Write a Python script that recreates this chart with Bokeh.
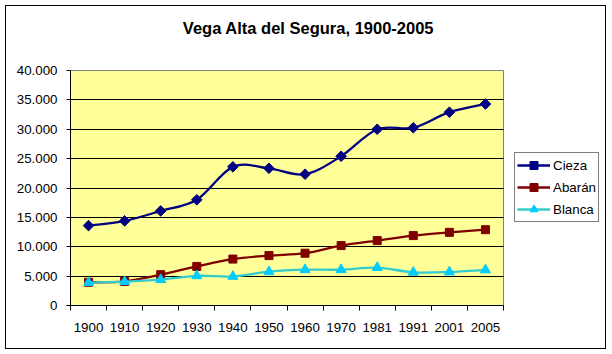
from bokeh.plotting import figure
from bokeh.models import Range1d, FixedTicker, Legend, LegendItem, ColumnDataSource, Label
from bokeh.embed import file_html
from bokeh.resources import INLINE
import math

years = ["1900", "1910", "1920", "1930", "1940", "1950", "1960", "1970", "1981", "1991", "2001", "2005"]
cieza = [13600, 14400, 16100, 18000, 23600, 23350, 22350, 25400, 30000, 30250, 32900, 34300]
abaran = [3950, 4100, 5250, 6650, 7900, 8500, 8900, 10200, 11050, 11900, 12450, 12900]
blanca = [3900, 4050, 4400, 5050, 4950, 5750, 6100, 6100, 6450, 5650, 5700, 6050]
y_ticks = [0, 5000, 10000, 15000, 20000, 25000, 30000, 35000, 40000]
y_labels = ["0", "5.000", "10.000", "15.000", "20.000", "25.000", "30.000", "35.000", "40.000"]
title_text = "Vega Alta del Segura, 1900-2005"

FONT = "Liberation Sans"

# page-pixel layout (figure drawn inside a 1px black frame at 5px margin)
INNER_W, INNER_H = 599, 342
ORIGIN = 6
AREA_L, AREA_R, AREA_T, AREA_B = 70, 503, 70, 305   # yellow plot area on the page
FRAME_R, FRAME_T = ORIGIN + INNER_W, ORIGIN          # drawing frame reaches the right/top edges

n = len(years)
ymin, ymax = y_ticks[0], y_ticks[-1]
px_x = (AREA_R - AREA_L) / n
px_y = (AREA_B - AREA_T) / (ymax - ymin)
x_end = (FRAME_R - AREA_L) / px_x
y_end = ymin + (AREA_B - FRAME_T) / px_y

p = figure(frame_width=FRAME_R - AREA_L, frame_height=AREA_B - FRAME_T,
           output_backend="svg", toolbar_location=None, title_location=None,
           x_range=Range1d(0, x_end), y_range=Range1d(ymin, y_end),
           min_border_left=AREA_L - ORIGIN, min_border_right=0, min_border_top=0,
           min_border_bottom=ORIGIN + INNER_H - AREA_B)
p.styles = {"border": "1px solid black", "margin-left": "5px", "margin-top": "5px"}

p.background_fill_color = "white"
p.border_fill_color = "white"
p.outline_line_color = None

# plot area
p.quad(left=[0], right=[n], bottom=[ymin], top=[ymax], fill_color="#FFFF99",
       line_color="#808080", line_width=1, level="image")

# horizontal gridlines, limited to the plot area
p.xgrid.visible = False
p.ygrid.ticker = FixedTicker(ticks=y_ticks[1:-1])
p.ygrid.cross_bounds = (0, n)
p.ygrid.grid_line_color = "black"
p.ygrid.grid_line_width = 1

xs = [i + 0.5 for i in range(n)]

xa = p.xaxis[0]
xa.bounds = (0, n)
xa.ticker = FixedTicker(ticks=xs, minor_ticks=list(range(n + 1)))
xa.major_label_overrides = {x: y for x, y in zip(xs, years)}
xa.major_tick_out = 0
xa.major_tick_in = 0
xa.minor_tick_out = 5
xa.minor_tick_in = 0
xa.minor_tick_line_color = "black"
xa.axis_line_color = "black"
xa.major_label_standoff = 12
xa.major_label_text_font = FONT
xa.major_label_text_font_size = "13.33px"
xa.major_label_text_color = "black"

ya = p.yaxis[0]
ya.bounds = (ymin, ymax)
ya.ticker = FixedTicker(ticks=y_ticks)
ya.major_label_overrides = {t: l for t, l in zip(y_ticks, y_labels)}
ya.major_tick_out = 4
ya.major_tick_in = 0
ya.minor_tick_out = 0
ya.minor_tick_in = 0
ya.major_tick_line_color = "black"
ya.axis_line_color = "black"
ya.major_label_standoff = 9
ya.major_label_text_font = FONT
ya.major_label_text_font_size = "13.33px"
ya.major_label_text_color = "black"


def smooth(xv, yv, t=1.0 / 6.0):
    m = len(xv)
    d = dict(x0=[], y0=[], x1=[], y1=[], cx0=[], cy0=[], cx1=[], cy1=[])
    for i in range(m - 1):
        im = max(i - 1, 0)
        ip2 = min(i + 2, m - 1)
        d["x0"].append(xv[i]); d["y0"].append(yv[i])
        d["x1"].append(xv[i + 1]); d["y1"].append(yv[i + 1])
        d["cx0"].append(xv[i] + (xv[i + 1] - xv[im]) * t)
        d["cy0"].append(yv[i] + (yv[i + 1] - yv[im]) * t)
        d["cx1"].append(xv[i + 1] - (xv[ip2] - xv[i]) * t)
        d["cy1"].append(yv[i + 1] - (yv[ip2] - yv[i]) * t)
    return ColumnDataSource(d)


series = [
    ("Cieza", cieza, "#000080", "#000080", "square", 7.5, math.pi / 4),
    ("Abarán", abaran, "#800000", "#800000", "square", 8, 0),
    ("Blanca", blanca, "#33CCCC", "#00CCFF", "triangle", 10, 0),
]

items = []
for name, vals, lc, mc, mk, sz, ang in series:
    b = p.bezier(x0="x0", y0="y0", x1="x1", y1="y1", cx0="cx0", cy0="cy0", cx1="cx1", cy1="cy1",
                 source=smooth(xs, vals), line_color=lc, line_width=2.3)
    s = p.scatter(xs, vals, marker=mk, size=sz, angle=ang, fill_color=mc, line_color=mc, line_width=1)
    items.append(LegendItem(label=name, renderers=[b, s]))

# title centred over the whole chart
TITLE_X, TITLE_Y = 308, 27
p.add_layout(Label(x=(TITLE_X - AREA_L) / px_x, y=ymin + (AREA_B - TITLE_Y) / px_y,
                   text=title_text, text_align="center", text_baseline="middle",
                   text_font=FONT, text_font_size="16.5px", text_font_style="bold",
                   text_color="black"))

LEG_L, LEG_B = 514, 222
legend = Legend(items=items, location=(LEG_L - AREA_L, AREA_B - LEG_B), orientation="vertical")
legend.border_line_color = "black"
legend.border_line_width = 1
legend.background_fill_color = "white"
legend.background_fill_alpha = 1
legend.label_text_font = FONT
legend.label_text_font_size = "13.33px"
legend.label_text_color = "black"
legend.glyph_width = 33
legend.glyph_height = 20
legend.label_height = 20
legend.label_standoff = 3
legend.spacing = 2
legend.padding = 2
legend.margin = 0
p.add_layout(legend, "center")

open("out.html", "w").write(file_html(p, INLINE))
